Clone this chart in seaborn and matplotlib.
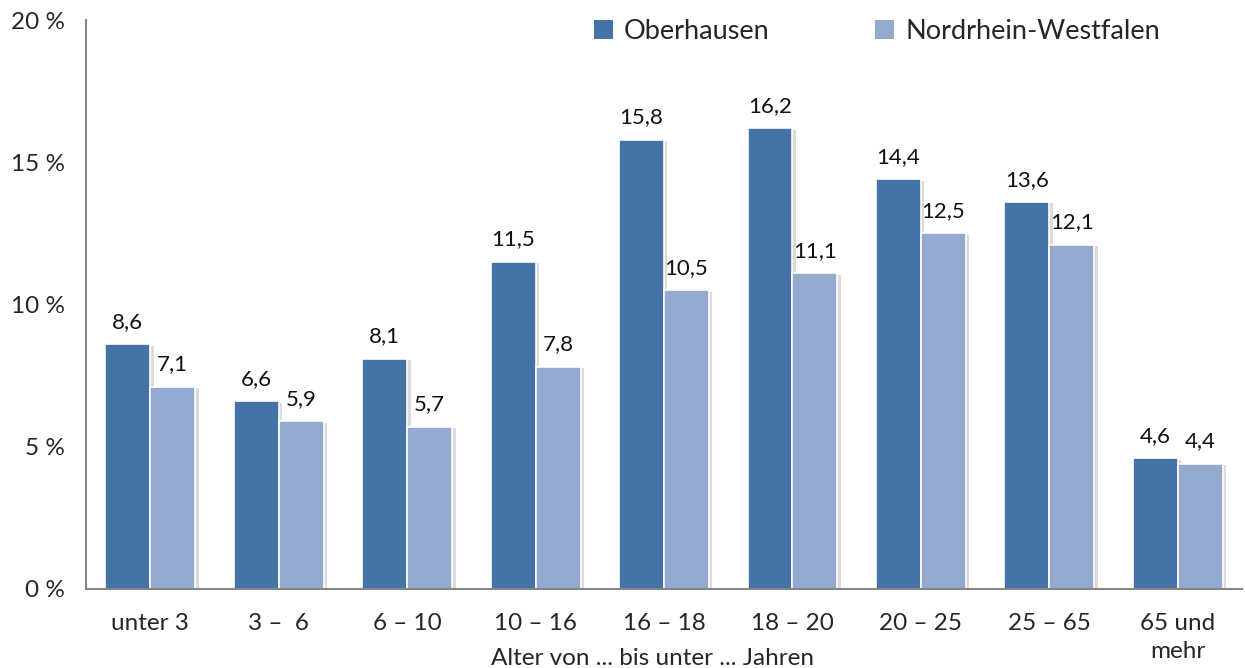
import numpy as np
import pandas as pd
import matplotlib
matplotlib.use("Agg")
import matplotlib.pyplot as plt
import matplotlib.patheffects as pe
from matplotlib.patches import Patch
import seaborn as sns

categories = ["unter 3", "3 –  6", "6 – 10", "10 – 16", "16 – 18", "18 – 20",
              "20 – 25", "25 – 65", "65 und\nmehr"]
oberhausen = [8.6, 6.6, 8.1, 11.5, 15.8, 16.2, 14.4, 13.6, 4.6]
nrw = [7.1, 5.9, 5.7, 7.8, 10.5, 11.1, 12.5, 12.1, 4.4]
series = ["Oberhausen", "Nordrhein-Westfalen"]
colors = ["#4572A7", "#93A9CF"]

df = pd.DataFrame({
    "Alter": categories * 2,
    "Anteil": oberhausen + nrw,
    "Gebiet": [series[0]] * len(categories) + [series[1]] * len(categories),
})

sns.set_style("white")
plt.rcParams["font.family"] = ["Lato", "DejaVu Sans"]

fig = plt.figure(figsize=(12.45, 6.68), dpi=100)
ax = fig.add_axes([0.0691, 0.1183, 0.9285, 0.8517])

sns.barplot(data=df, x="Alter", y="Anteil", hue="Gebiet", palette=colors,
            saturation=1, width=0.7, edgecolor="white", linewidth=1.2, ax=ax, legend=False)

shadow = [pe.SimplePatchShadow(offset=(2.5, -1), shadow_rgbFace="#b0b0b0", alpha=0.45), pe.Normal()]
for p in ax.patches:
    p.set_path_effects(shadow)

for cont in ax.containers:
    ax.bar_label(cont, labels=[f"{v:.1f}".replace(".", ",") for v in cont.datavalues],
                 padding=9, fontsize=16, color="#111111")

ax.set_xlim(-0.5, len(categories) - 0.5)
ax.set_ylim(0, 20)
ax.set_yticks([0, 5, 10, 15, 20])
ax.set_yticklabels([f"{t} %" for t in [0, 5, 10, 15, 20]], fontsize=17.5)
ax.tick_params(axis="y", direction="out", length=7, width=1.5, color="#868686", pad=8)
ax.tick_params(axis="x", which="major", length=0, labelsize=17.5, pad=17)
for lab in ax.get_xticklabels():
    lab.set_linespacing(1.45)
ax.set_xticks(np.arange(-0.5, len(categories)), minor=True)
ax.tick_params(axis="x", which="minor", direction="out", length=9, width=1.5, color="#868686")
ax.set_xlabel("Alter von ... bis unter ... Jahren", fontsize=17.5)
ax.xaxis.set_label_coords(0.49, -0.104)
ax.set_ylabel("")

for s in ["top", "right"]:
    ax.spines[s].set_visible(False)
for s in ["left", "bottom"]:
    ax.spines[s].set_color("#868686")
    ax.spines[s].set_linewidth(1.5)

handles = [Patch(facecolor=c, edgecolor="none") for c in colors]
ax.legend(handles, series, loc="upper right", ncol=2, frameon=False, fontsize=19.5,
          handlelength=0.7, handleheight=0.7, handletextpad=0.4, columnspacing=3.9,
          bbox_to_anchor=(0.95, 1.045))

fig.savefig("out.png", dpi=100)
